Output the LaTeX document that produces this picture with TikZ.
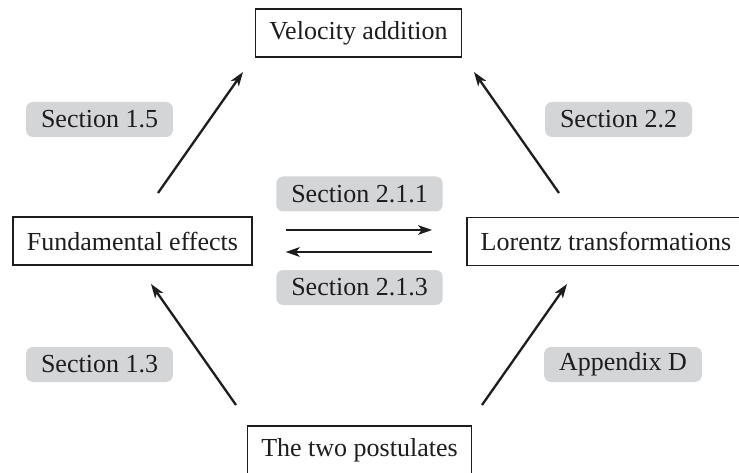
\documentclass[tikz,border=0pt]{standalone}
\usepackage{fontspec}
\setmainfont{Liberation Serif}
\usetikzlibrary{arrows.meta}
\definecolor{lbl}{RGB}{212,213,215}
\definecolor{ink}{RGB}{30,28,29}
\begin{document}
\begin{tikzpicture}[x=1pt,y=-1pt,
  topic/.style={draw=ink, line width=1.5pt, font=\fontsize{26}{31}\selectfont, text=ink,
    inner xsep=13.8pt, inner ysep=0pt, minimum height=48pt},
  lbl/.style={fill=lbl, rounded corners=7pt, font=\fontsize{26}{31}\selectfont, text=ink,
    inner xsep=15pt, inner ysep=0pt, minimum height=35pt},
  conn/.style={draw=ink, line width=2.3pt, -{Stealth[length=14pt,width=9.5pt,inset=3.5pt]}}]
\useasboundingbox (0,0) rectangle (739,473);
\fill[white] (0,0) rectangle (739,473);
% topic boxes
\node[topic] (vel) at (358.5,33) {Velocity addition};
\node[topic] (fund) at (132.5,241) {Fundamental effects};
\node[topic] (lor) at (606,241.5) {Lorentz transformations};
\node[topic] (post) at (359.5,450) {The two postulates};
% labels
\node[lbl] (s15) at (99.5,119.5) {Section 1.5};
\node[lbl] (s22) at (618.5,119.5) {Section 2.2};
\node[lbl] (s211) at (359.5,194) {Section 2.1.1};
\node[lbl] (s213) at (359.5,287.5) {Section 2.1.3};
\node[lbl] (s13) at (99.5,364.5) {Section 1.3};
\node[lbl] (sD) at (623,364.5) {Appendix D};
% connector end points
\coordinate (fvS) at (158,193);
\coordinate (fvE) at (243,72);
\coordinate (lvS) at (559,193);
\coordinate (lvE) at (474,72);
\coordinate (pfS) at (236,405);
\coordinate (pfE) at (151,284);
\coordinate (plS) at (482,405);
\coordinate (plE) at (567,284);
% connectors
\draw[conn] (fvS) -- (fvE);
\draw[conn] (lvS) -- (lvE);
\draw[conn] (pfS) -- (pfE);
\draw[conn] (plS) -- (plE);
\draw[conn, shorten <=33pt, shorten >=34pt] ([yshift=11pt]fund.east) -- ([yshift=11pt]fund.east -| lor.west);
\draw[conn, shorten <=34pt, shorten >=33pt] ([yshift=-11pt]fund.east -| lor.west) -- ([yshift=-11pt]fund.east);
\end{tikzpicture}
\end{document}
